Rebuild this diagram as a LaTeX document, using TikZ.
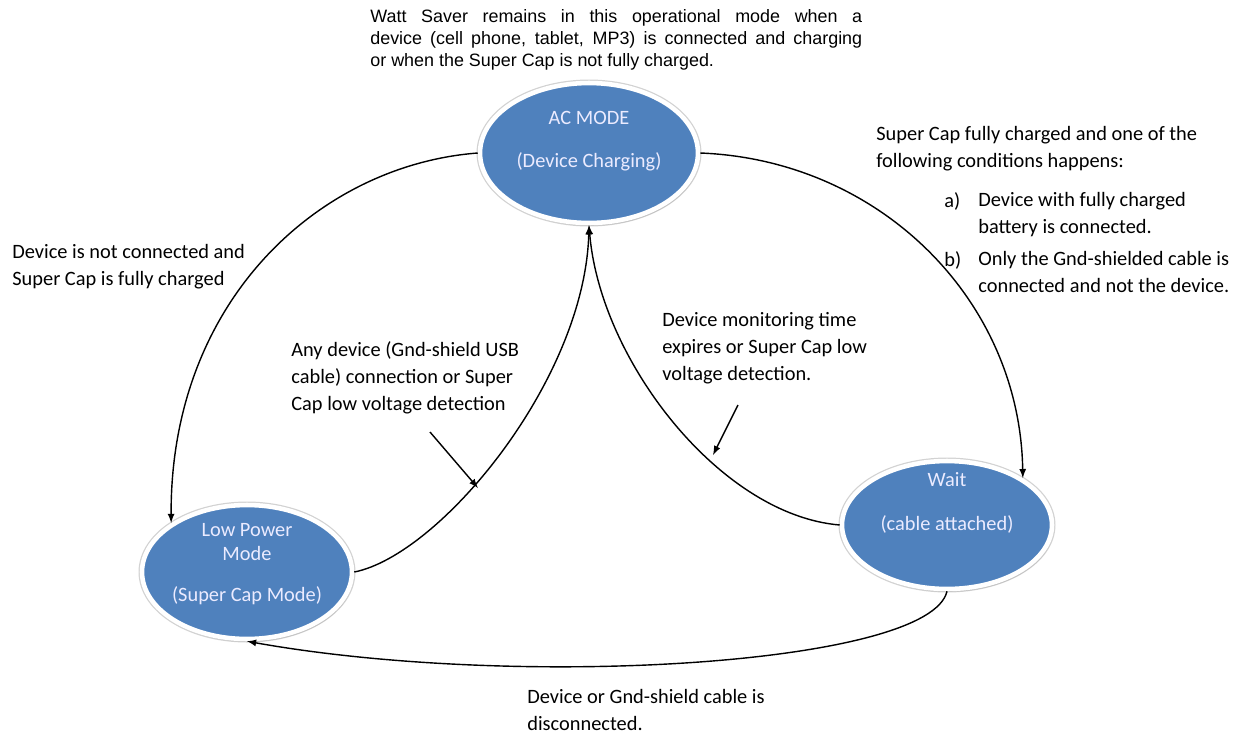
\documentclass[tikz,border=0pt]{standalone}
\usepackage{fontspec}
\setmainfont{Carlito}
\newfontfamily\arialfont{Liberation Sans}
\usetikzlibrary{shapes.geometric,shadows}

\definecolor{stateblue}{RGB}{79,129,189}

\begin{document}
\begin{tikzpicture}[x=0.02cm,y=-0.02cm]

\tikzset{%
    state/.style={ellipse,fill=stateblue,draw=white,line width=2.6pt,
        preaction={draw=gray!35,line width=4pt},
        drop shadow={shadow xshift=0.8pt,shadow yshift=-1.6pt,fill=gray!60}},
    statetext/.style={align=center,text=white!92!blue,font=\fontsize{11.6}{13.6}\selectfont},
    note/.style={align=left,anchor=north west,inner sep=0pt,font=\fontsize{11.6}{15.4}\selectfont},
    trans/.style={->,>=latex,line width=0.8pt},
}

\useasboundingbox (0,0) rectangle (1241,738);

% states
\node [state,minimum width=4.36cm,minimum height=2.8cm] (ac) at (589,153) {};
\node [state,minimum width=4.2cm,minimum height=2.68cm] (low) at (247,572) {};
\node [state,minimum width=4.2cm,minimum height=2.56cm] (wait) at (947,525) {};

\node [statetext] (actext) at (589,141) {AC MODE\\[11pt](Device Charging)};
\node [statetext] (lowtext) at (247,564) {Low Power\\Mode\\[10pt](Super Cap Mode)};
\node [statetext] (waittext) at (947,503) {Wait\\[11pt](cable attached)};

% transitions
\draw [trans] (ac.west) .. controls (320,165) and (170,300) .. (low.north west) ;
\draw [trans] (ac.east) .. controls (880,160) and (1020,300) .. (wait.north east);
\draw [trans] (low.east) .. controls (440,555) and (585,380) .. (ac.south);
\draw [trans] (wait.west) .. controls (720,515) and (600,360) .. (ac.south);
\draw [trans] (wait.south) .. controls (930,665) and (520,690) .. (low.south);

% top note
\node [inner sep=0pt,anchor=north west,text width=9.84cm,align=justify,
    font=\arialfont\fontsize{10.2}{12.5}\selectfont] (topnote) at (370,9)
    {Watt Saver remains in this operational mode when a\linebreak device (cell phone, tablet, MP3) is connected and charging\linebreak or when the Super Cap is not fully charged.};

% labels
\node [note] (lblA) at (12,244) {Device is not connected and\\Super Cap is fully charged};
\node [note] (lblB) at (291,341) {Any device (Gnd-shield USB\\cable) connection or Super\\Cap low voltage detection};
\node [note] (lblC) at (662,312) {Device monitoring time\\expires or Super Cap low\\voltage detection.};
\node [note] (lblD) at (876,126) {Super Cap fully charged and one of the\\following conditions happens:};
\node [note] (lblDa) at (944,192) {a)};
\node [note] (lblDatext) at (978,192) {Device with fully charged\\battery is connected.};
\node [note] (lblDb) at (944,251) {b)};
\node [note] (lblDbtext) at (978,251) {Only the Gnd-shielded cable is\\connected and not the device.};
\node [note] (lblE) at (527,689) {Device or Gnd-shield cable is\\disconnected.};

% pointers
\coordinate (pB) at (478,488);
\coordinate (pC) at (713,455);
\draw [trans] (430,432) -- (pB);
\draw [trans] (738,405) -- (pC);

\end{tikzpicture}
\end{document}
